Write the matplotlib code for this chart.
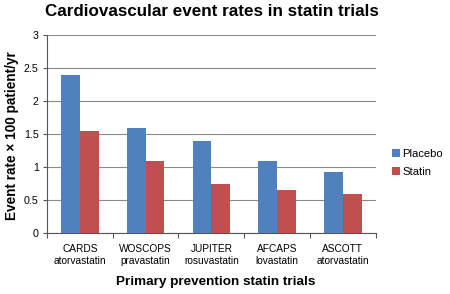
import matplotlib
matplotlib.use("Agg")
import matplotlib.pyplot as plt
import numpy as np

plt.rcParams['font.family'] = ['Liberation Sans', 'DejaVu Sans']

trials = ["CARDS", "WOSCOPS", "JUPITER", "AFCAPS", "ASCOTT"]
drugs = ["atorvastatin", "pravastatin", "rosuvastatin", "lovastatin", "atorvastatin"]
placebo = [2.4, 1.6, 1.4, 1.1, 0.92]
statin = [1.55, 1.1, 0.75, 0.65, 0.6]
yticks = [0, 0.5, 1, 1.5, 2, 2.5, 3]
ytick_labels = ["0", "0.5", "1", "1.5", "2", "2.5", "3"]

W, H = 450, 294
fig = plt.figure(figsize=(W / 100, H / 100), dpi=100)
ax_l, ax_r, ax_t, ax_b = 47.0, 375.7, 35.0, 233.3
ax = fig.add_axes([ax_l / W, 1 - ax_b / H, (ax_r - ax_l) / W, (ax_b - ax_t) / H])

x = np.arange(len(trials))
w = 0.285
ax.bar(x - w/2, placebo, w, color="#4F81BD", label="Placebo", zorder=3)
ax.bar(x + w/2, statin, w, color="#C0504D", label="Statin", zorder=3)

ax.set_xlim(-0.5, len(trials) - 0.5)
ax.set_ylim(0, 3)
ax.set_yticks(yticks)
ax.set_yticklabels(ytick_labels, fontsize=7.7)
ax.yaxis.grid(True, color="#8a8a8a", linewidth=0.8, zorder=0)
ax.set_axisbelow(True)

ax.set_xticks(x)
ax.set_xticklabels([f"{t}\n{d}" for t, d in zip(trials, drugs)], fontsize=7.3, linespacing=1.2)
ax.tick_params(axis='x', which='major', length=0, pad=8)
ax.set_xticks(np.arange(len(trials) + 1) - 0.5, minor=True)
ax.tick_params(axis='x', which='minor', length=3.5, color="#555555", width=0.8)
ax.tick_params(axis='y', length=3, color="#555555", width=0.8, pad=3)

for s in ["top", "right"]:
    ax.spines[s].set_visible(False)
ax.spines["left"].set_color("#555555")
ax.spines["bottom"].set_color("#555555")

fig.text(12 / W, 1 - 136 / H, "Event rate × 100 patient/yr", rotation=90, ha="center", va="center",
         fontsize=9.8, fontweight="bold")
fig.text(216 / W, 1 - 281.7 / H, "Primary prevention statin trials", ha="center", va="center",
         fontsize=9.7, fontweight="bold")
fig.text(211.5 / W, 1 - 12 / H, "Cardiovascular event rates in statin trials", ha="center", va="center",
         fontsize=12.25, fontweight="bold")

fig.legend(handles=ax.patches[:1] + ax.patches[len(trials):len(trials) + 1], labels=["Placebo", "Statin"],
           loc="center left", bbox_to_anchor=(392 / W, 1 - 162.8 / H), frameon=False, fontsize=8.1,
           handlelength=0.68, handleheight=0.68, handletextpad=0.25, labelspacing=0.7,
           borderpad=0, borderaxespad=0)

fig.savefig("out.png", dpi=100)
